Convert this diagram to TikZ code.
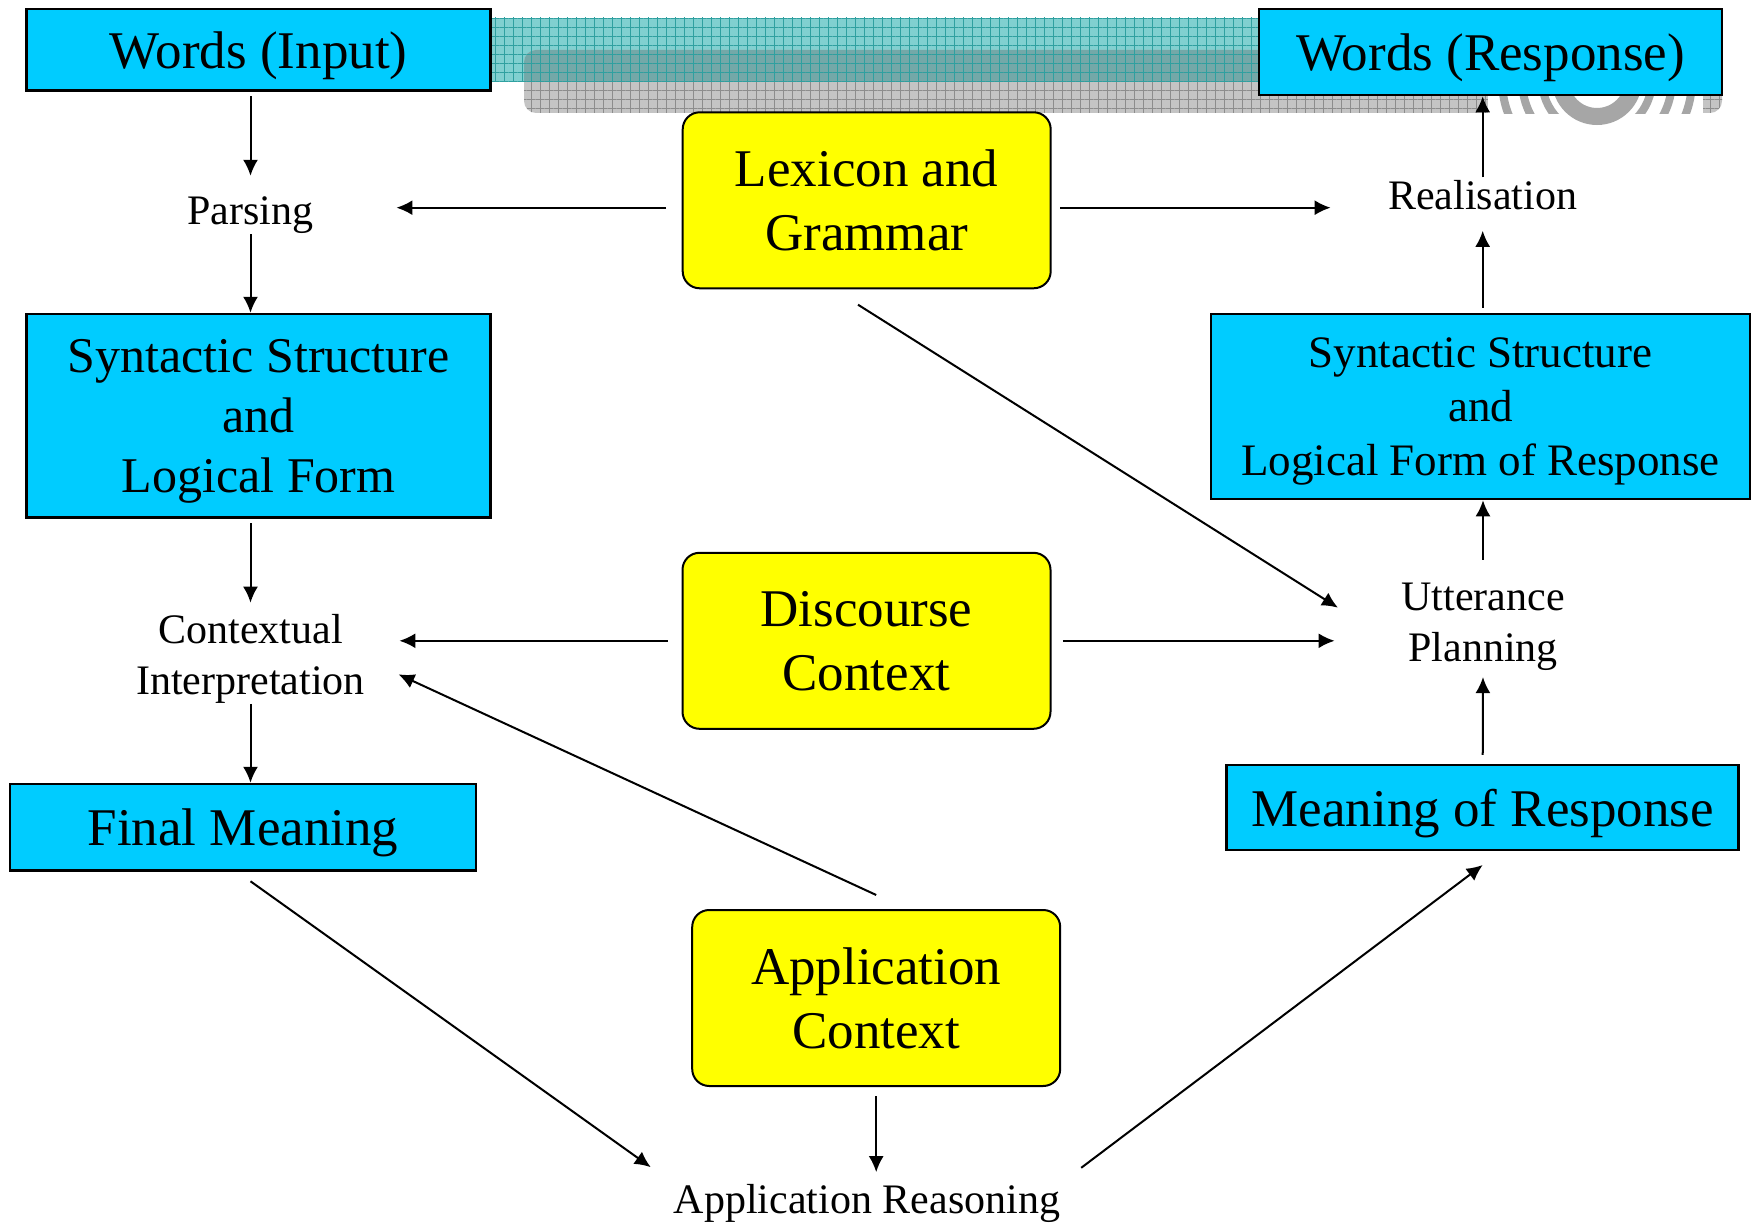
\documentclass[tikz,border=0pt]{standalone}
\usepackage{xcolor}
\usepackage{fontspec}
\setmainfont{Liberation Serif}
\usepackage{tikz}
\usetikzlibrary{shapes, arrows.meta}
\usetikzlibrary{positioning}
\usetikzlibrary{patterns.meta}

\definecolor{boxcyan}{HTML}{00CCFF}
\definecolor{boxyellow}{HTML}{FFFF00}
\definecolor{bandteal}{HTML}{80D0D0}
\definecolor{bandtealline}{HTML}{2FA0A0}
\definecolor{bandgrey}{HTML}{C4C4C4}
\definecolor{bandgreyline}{HTML}{8C8C8C}
\definecolor{bandmix}{HTML}{74A8A8}
\definecolor{logogrey}{HTML}{A6A6A6}

\newcommand{\bigtxt}{\fontsize{26.5}{32}\selectfont}
\newcommand{\syntxt}{\fontsize{25}{30}\selectfont}
\newcommand{\resptxt}{\fontsize{22.5}{27}\selectfont}
\newcommand{\smalltxt}{\fontsize{21}{25.5}\selectfont}

\begin{document}
\begin{tikzpicture}[
        x=0.5pt, y=-0.5pt,
        cyanbox/.style={draw, line width=1.3pt, fill=boxcyan, inner sep=0pt, align=center, text depth=0pt},
        yellowbox/.style={draw, line width=1pt, fill=boxyellow, rounded corners=8.5pt, inner sep=0pt, align=center, minimum width=184pt, minimum height=88pt, font=\bigtxt},
        steplabel/.style={inner sep=0pt, align=center, font=\smalltxt},
        link/.style={-{Latex[length=8pt,width=7.5pt]}, line width=1pt}
    ]
    \useasboundingbox (0,0) rectangle (1752,1224);

    % banner behind the top boxes
    \fill[bandteal] (470,18) rectangle (1270,82);
    \fill[bandgrey, rounded corners=6pt] (524,50) rectangle (1722,113);
    \begin{scope}
        \clip[rounded corners=6pt] (524,50) rectangle (1722,113);
        \fill[bandmix] (470,18) rectangle (1270,82);
    \end{scope}
    \fill[pattern={Hatch[angle=0,distance=4.5pt,line width=0.4pt]}, pattern color=bandgreyline, rounded corners=6pt] (524,50) rectangle (1722,113);
    \fill[pattern={Hatch[angle=0,distance=4.5pt,line width=0.4pt]}, pattern color=bandtealline] (470,18) rectangle (1270,82);
    \fill[white] (1488,96) rectangle (1703,127);
    \draw[logogrey, line width=8.5pt] (1597,80) circle[radius=36.5];
    \begin{scope}
        \clip (1490,90) rectangle (1702,114);
        \foreach \r in {55,75,95}
            \draw[logogrey, line width=4pt] (1597,80) circle[radius=\r];
    \end{scope}

    \node[cyanbox, minimum width=232pt, minimum height=40.8pt, font=\bigtxt] (wordsin) at (258.7,49.7) {Words (Input)};
    \node[cyanbox, minimum width=231.5pt, minimum height=43pt, font=\bigtxt] (wordsout) at (1490.5,52) {Words (Response)};
    \node[yellowbox] (lexgram) at (866.7,200.3) {Lexicon and\\Grammar};
    \node[steplabel, anchor=base] (parsing) at (250.5,225) {Parsing};
    \node[steplabel, anchor=base] (realis) at (1482.7,210) {Realisation};
    \node[cyanbox, minimum width=232pt, minimum height=101.6pt, font=\syntxt] (synin) at (258.7,415.7) {Syntactic Structure\\and\\Logical Form};
    \node[cyanbox, minimum width=269.5pt, minimum height=92.5pt, font=\resptxt] (synout) at (1480.5,406.5) {Syntactic Structure\\and\\Logical Form of Response};
    \node[yellowbox] (discourse) at (866.5,640.8) {Discourse\\Context};
    \node[steplabel] (ctx) at (250.5,659) {Contextual\\Interpretation};
    \node[steplabel] (utter) at (1483,626.9) {Utterance\\Planning};
    \node[cyanbox, minimum width=233pt, minimum height=43.3pt, font=\bigtxt] (finalm) at (243,827.4) {Final Meaning};
    \node[cyanbox, minimum width=256pt, minimum height=42.5pt, font=\bigtxt] (respm) at (1482.7,807.5) {Meaning of Response};
    \node[yellowbox] (appctx) at (876.2,998) {Application\\Context};
    \node[steplabel, anchor=base] (appreas) at (867,1213) {Application Reasoning};

    % understanding side
    \draw[link, shorten <=2.25pt, shorten >=10.5pt] (wordsin.south -| parsing.north) -- (parsing.north);
    \draw[link] (parsing.south) -- (parsing.south |- synin.north);
    \draw[link, shorten <=2.4pt, shorten >=5.7pt] (synin.south -| ctx.north) -- (ctx.north);
    \draw[link] (ctx.south) -- (ctx.south |- finalm.north);
    \draw[link, shorten <=7.85pt, shorten >=41.25pt] ([yshift=-3.7pt]lexgram.west) -- ([yshift=-3.7pt]lexgram.west -| parsing.east);
    \draw[link, shorten <=6.85pt, shorten >=17.1pt] (discourse.west) -- (discourse.west -| ctx.east);
    \draw[link, shorten >=18.3pt] ([yshift=7pt]appctx.north) -- (ctx.east);

    % reasoning
    \draw[link, shorten >=14pt] ([yshift=-4.65pt]finalm.south -| ctx.south) -- (appreas.north west);
    \draw[link, shorten <=4.5pt, shorten >=5.65pt] (appctx.south) -- (appctx.south |- appreas.north);
    \draw[link, shorten <=13pt] (appreas.north east) -- ([yshift=-6.85pt]respm.south);

    % response side
    \draw[link, shorten <=4.45pt, shorten >=3pt] (respm.north) -- (utter.south);
    \draw[link] ([yshift=11.5pt]utter.north) -- (utter.north |- synout.south);
    \draw[link, shorten <=2.5pt, shorten >=10pt] (synout.north -| realis.south) -- (realis.south);
    \draw[link] ([yshift=1.6pt]realis.north) -- (realis.north |- wordsout.south);
    \draw[link, shorten <=4.15pt, shorten >=28.6pt] ([yshift=-3.7pt]lexgram.east) -- ([yshift=-3.7pt]lexgram.east -| realis.west);
    \draw[link, shorten <=5.7pt, shorten >=33.2pt] (discourse.east) -- (discourse.east -| utter.west);
    \draw[link] ([xshift=-4.35pt,yshift=-7.7pt]lexgram.south) -- ([xshift=-31.5pt,yshift=9.6pt]utter.west);
\end{tikzpicture}
\end{document}
